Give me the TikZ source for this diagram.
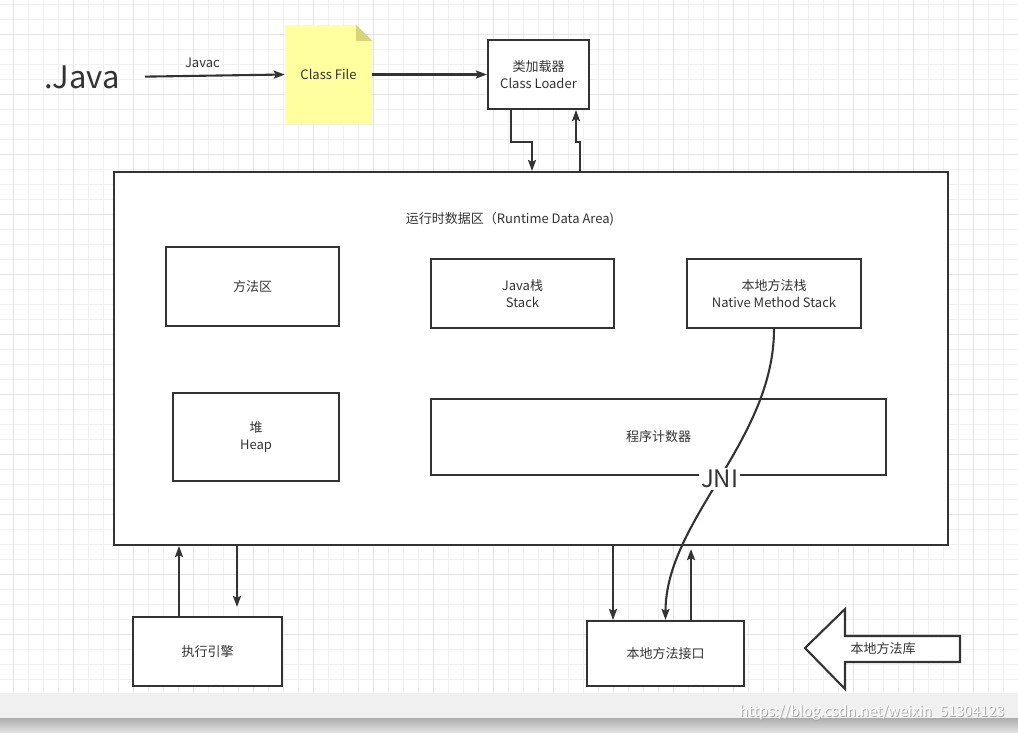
\documentclass[tikz,border=0pt]{standalone}
\usepackage{fontspec}
\setmainfont{Noto Sans CJK SC}
\usetikzlibrary{arrows.meta,calc,positioning}
\definecolor{jvline}{RGB}{51,51,51}
\definecolor{jvgrid}{RGB}{240,240,240}
\definecolor{jvgridmaj}{RGB}{228,228,228}
\definecolor{jvnote}{RGB}{255,255,160}
\definecolor{jvfold}{RGB}{214,212,118}
\definecolor{jvband}{RGB}{240,240,240}

\begin{document}
\begin{tikzpicture}[x=1pt,y=-1pt,
    >={Stealth[length=11pt,width=8pt,inset=2pt]},
    font=\fontsize{13}{17}\selectfont, text=jvline,
    every node/.style={inner sep=0pt},
    box/.style={draw=jvline,line width=2.1pt,fill=white,align=center},
    link/.style={draw=jvline,line width=2.1pt,->}]
  \useasboundingbox (0,0) rectangle (1018,732);
  % grid paper
  \foreach \x in {13,28,...,1018} \draw[jvgrid,line width=1pt] (\x,0) -- (\x,693);
  \foreach \y in {4,19,...,693} \draw[jvgrid,line width=1pt] (0,\y) -- (1018,\y);
  \foreach \x in {13,73,...,1018} \draw[jvgridmaj,line width=1pt] (\x,0) -- (\x,693);
  \foreach \y in {34,94,...,693} \draw[jvgridmaj,line width=1pt] (0,\y) -- (1018,\y);
  \fill[jvband] (0,693) rectangle (1018,718);
  \shade[top color=black!32,bottom color=black!12] (0,718) rectangle (1018,732);

  % top row
  \node (java) at (82,77) {\fontsize{31}{31}\selectfont .Java};
  \node[minimum width=87pt,minimum height=99pt] (cf) at (328.5,74.5) {};
  \fill[jvnote] (cf.north west) -- ($(cf.north east)+(-16,0)$) -- ($(cf.north east)+(0,16)$)
    -- (cf.south east) -- (cf.south west) -- cycle;
  \fill[jvfold] ($(cf.north east)+(-16,0)$) -- ($(cf.north east)+(0,16)$) -- ($(cf.north east)+(-16,16)$) -- cycle;
  \node at (cf) {Class File};
  \node[box,minimum width=101pt,minimum height=69pt] (loader) at (538.5,74.5) {类加载器\\Class Loader};
  \draw[link,shorten <=25pt] (java.east) -- node[above=7pt]{Javac} (cf.west);
  \draw[link] (cf.east) -- (loader.west);

  % runtime data area
  \node[box,minimum width=834pt,minimum height=373pt] (rda) at (531,358.5) {};
  \node (title) at (510,219) {运行时数据区（Runtime Data Area)};
  \node[box,minimum width=173pt,minimum height=79pt] (method) at (252.5,286.5) {方法区};
  \node[box,minimum width=183pt,minimum height=69pt] (jstack) at (522.5,293.5) {Java栈\\Stack};
  \node[box,minimum width=174pt,minimum height=69pt] (nstack) at (774,293.5) {本地方法栈\\Native Method Stack};
  \node[box,minimum width=166pt,minimum height=88pt] (heap) at (256,437) {堆\\Heap};
  \node[box,minimum width=455pt,minimum height=76pt] (pc) at (658.5,437) {程序计数器};

  \draw[link] ([xshift=-27.5pt]loader.south) -- ++(0,32) -| ([xshift=1pt]rda.north);
  \draw[link] ([xshift=49pt]rda.north) -- ++(0,-29) -| ([xshift=37.5pt]loader.south);

  % bottom row
  \node[box,minimum width=149pt,minimum height=69pt] (engine) at (207.5,651.5) {执行引擎};
  \node[box,minimum width=157pt,minimum height=65pt] (nif) at (665.5,653.5) {本地方法接口};
  \draw[link] ([xshift=-28.5pt]engine.north) -- ([xshift=-28.5pt]engine.north |- rda.south);
  \draw[link] ([xshift=29.5pt]engine.north |- rda.south) -- ([xshift=29.5pt,yshift=9pt]engine.north);
  \draw[link] ([xshift=-52.5pt]nif.north |- rda.south) -- ([xshift=-52.5pt]nif.north);
  \draw[link] ([xshift=25.5pt]nif.north) -- ([xshift=25.5pt,yshift=-3pt]nif.north |- rda.south);
  \draw[link] (nstack.south) .. controls +(0,112) and +(0,-100) .. (nif.north)
    node[pos=.5,fill=white,inner sep=2pt,font=\fontsize{24}{24}\selectfont] (jni) {JNI};

  % native library arrow
  \draw[jvline,line width=2.1pt,fill=white,line join=miter]
    (805,648) -- (845,609) -- (845,636) -- (960,636) -- (960,662) -- (845,662) -- (845,689) -- cycle;
  \node (nlib) at (883,649) {本地方法库};

  % watermark
  \node[text=black!35] at (873,714) {\fontsize{14.5}{15}\selectfont https://blog.csdn.net/weixin\_51304123};
  \node[text=white] (mark) at (872,713) {\fontsize{14.5}{15}\selectfont https://blog.csdn.net/weixin\_51304123};
\end{tikzpicture}
\end{document}
